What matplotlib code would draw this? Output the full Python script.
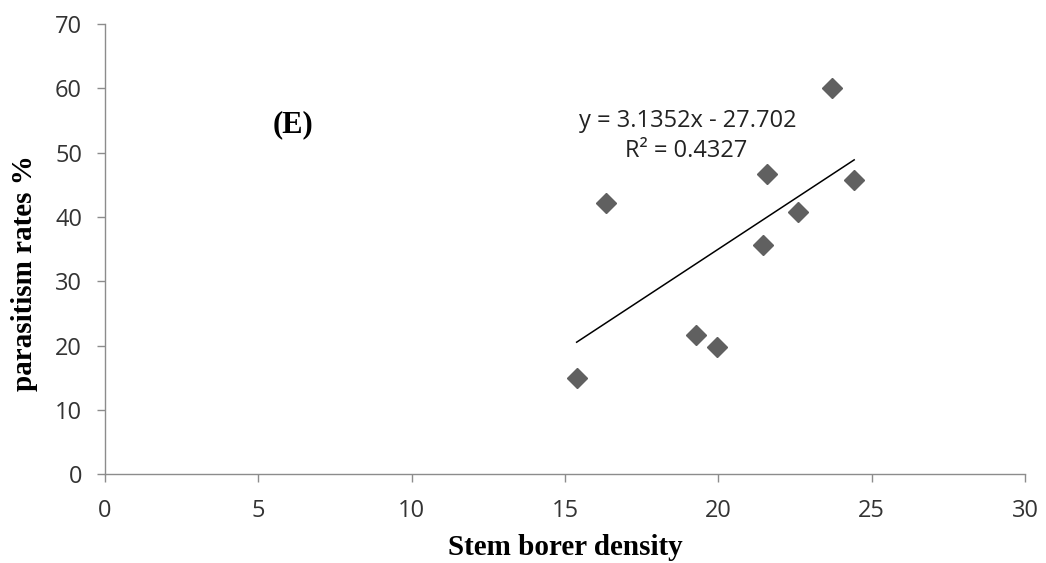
import matplotlib
matplotlib.use('Agg')
import matplotlib.pyplot as plt
import numpy as np

# stem borer density vs parasitism rate (%)
density = [15.38, 16.33, 19.26, 19.97, 21.47, 22.6, 24.43, 23.7, 21.6]
parasitism = [15.0, 42.2, 21.7, 19.7, 35.6, 40.8, 45.8, 60.0, 46.7]

slope = 3.1352
intercept = -27.702
r2 = 0.4327

fig = plt.figure(figsize=(10.46, 5.63), dpi=100)
ax = fig.add_axes([0.1004, 0.158, 0.8795, 0.799])

ax.plot(density, parasitism, linestyle='none', marker='D', markersize=10,
        color='#606060', markeredgecolor='#606060', zorder=3)

# linear trend line over the data range
xs = np.array([min(density), max(density)])
ax.plot(xs, slope * xs + intercept, color='black', linewidth=1.1, zorder=2)

ax.set_xlim(0, 30)
ax.set_ylim(0, 70)
ax.set_xticks(range(0, 31, 5))
ax.set_yticks(range(0, 71, 10))

for s in ['top', 'right']:
    ax.spines[s].set_visible(False)
for s in ['left', 'bottom']:
    ax.spines[s].set_color('#8c8c8c')
    ax.spines[s].set_linewidth(1.0)

ax.tick_params(axis='both', direction='out', length=6, width=1, color='#8c8c8c',
               labelsize=17, labelcolor='#333333')
ax.tick_params(axis='x', pad=12)
ax.tick_params(axis='y', pad=10.5)
for lab in ax.get_xticklabels() + ax.get_yticklabels():
    lab.set_family('Open Sans')

ax.set_xlabel('Stem borer density', fontsize=21, fontweight='bold',
              family='Liberation Serif')
ax.set_ylabel('parasitism rates %', fontsize=21, fontweight='bold',
              family='Liberation Serif')
ax.xaxis.label.set_va('center')
ax.yaxis.label.set_va('center')
ax.xaxis.set_label_coords(0.5008, -0.164)
ax.yaxis.set_label_coords(-0.088, 0.447)

ax.text(6.13, 54.3, '(E)', fontsize=22, fontweight='bold', family='Liberation Serif',
        ha='center', va='center')
ax.text(19.0, 54.9, 'y = %.4fx - %.3f' % (slope, -intercept), fontsize=17,
        family='Open Sans', ha='center', va='center', color='#222222')
ax.text(18.96, 50.2, 'R² = %.4f' % r2, fontsize=17,
        family='Open Sans', ha='center', va='center', color='#222222')

plt.savefig('out.png', dpi=100)
plt.close()
